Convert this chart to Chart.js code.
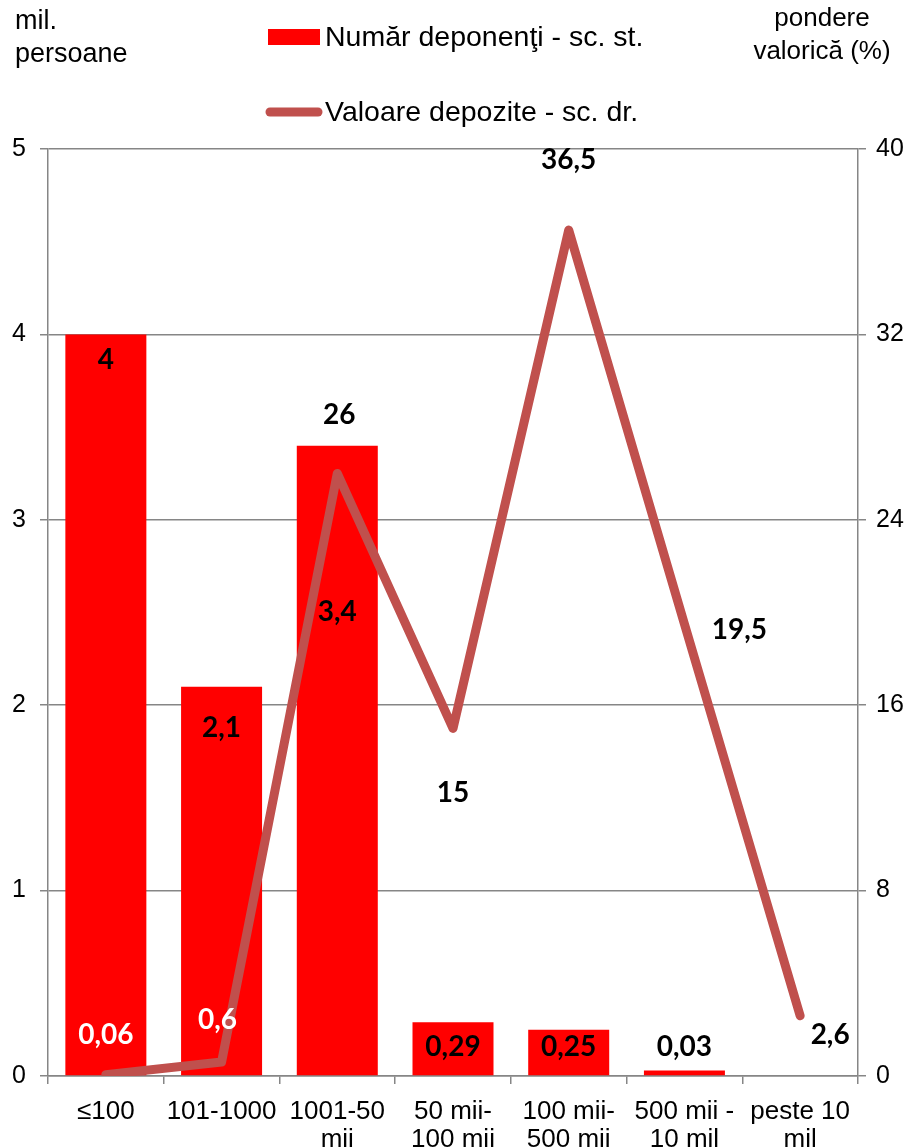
<!DOCTYPE html>
<html>
<head>
<meta charset="utf-8">
<script src="https://cdn.jsdelivr.net/npm/chart.js@4.4.1/dist/chart.umd.min.js"></script>
<style>
  html, body { margin: 0; padding: 0; background: #fff; }
  #wrap { width: 914px; height: 1148px; }
</style>
</head>
<body>
<div id="wrap"><canvas id="myChart" width="914" height="1148"></canvas></div>
<script>
// categorii (sume depozitate, lei)
var categories = [['≤100'], ['101-1000'], ['1001-50', 'mii'], ['50 mii-', '100 mii'],
  ['100 mii-', '500 mii'], ['500 mii -', '10 mil'], ['peste 10', 'mil']];
// numar deponenti, mil. persoane (scala stanga)
var deponenti = [4, 2.1, 3.4, 0.29, 0.25, 0.03, null];
// valoare depozite, pondere % (scala dreapta)
var depozite = [0.06, 0.6, 26, 15, 36.5, 19.5, 2.6];
var leftTicks = [0, 1, 2, 3, 4, 5];
var rightTicks = [0, 8, 16, 24, 32, 40];

var RED = '#FF0000', LINE = '#C0504D', AXIS = '#868686';
var TXT = '"Liberation Sans", Arial, sans-serif';

function fmt(v) { return String(v).replace('.', ','); }

// etichete de valoare, deplasate fata de bara / punct
var labelPlugin = {
  id: 'valLabels',
  afterDatasetsDraw: function(chart, args, opts) {
    var c = chart.ctx;
    c.save();
    c.font = 'bold 28px Lato, "Open Sans", sans-serif';
    c.textAlign = 'center';
    c.textBaseline = 'middle';
    chart.data.datasets.forEach(function(ds, di) {
      var meta = chart.getDatasetMeta(di);
      var offs = opts.offsets[di];
      meta.data.forEach(function(el, i) {
        var v = ds.data[i];
        if (v == null || !offs[i]) return;
        c.fillStyle = (opts.white[di] || [])[i] ? '#fff' : '#000';
        c.fillText(fmt(v), el.x + offs[i][0], el.y + offs[i][1]);
      });
    });
    c.restore();
  }
};

// legenda si titlurile axelor
var headerPlugin = {
  id: 'header',
  afterDraw: function(chart) {
    var c = chart.ctx;
    c.save();
    c.fillStyle = '#000';
    c.textBaseline = 'middle';
    c.font = '27px ' + TXT;
    c.textAlign = 'left';
    c.fillText('mil.', 15, 22);
    c.fillText('persoane', 15, 55);
    c.font = '26px ' + TXT;
    c.textAlign = 'center';
    c.fillText('pondere', 822, 19);
    c.fillText('valorică (%)', 822, 52);

    c.fillStyle = RED;
    c.fillRect(268, 29, 52, 16);
    c.strokeStyle = LINE;
    c.lineWidth = 9;
    c.lineCap = 'round';
    c.beginPath();
    c.moveTo(270, 112);
    c.lineTo(318, 112);
    c.stroke();

    c.fillStyle = '#000';
    c.textAlign = 'left';
    c.font = '28.5px ' + TXT;
    c.fillText(chart.data.datasets[1].label, 325, 38);
    c.fillText(chart.data.datasets[0].label, 325, 113);
    c.restore();
  }
};

var chart = new Chart(document.getElementById('myChart'), {
  data: {
    labels: categories,
    datasets: [{
      type: 'line',
      label: 'Valoare depozite - sc. dr.',
      data: depozite,
      yAxisID: 'y1',
      borderColor: LINE,
      backgroundColor: LINE,
      borderWidth: 9,
      borderCapStyle: 'round',
      borderJoinStyle: 'round',
      pointRadius: 0,
      tension: 0,
      order: 0
    }, {
      type: 'bar',
      label: 'Număr deponenţi - sc. st.',
      data: deponenti,
      yAxisID: 'y',
      backgroundColor: RED,
      barPercentage: 0.7,
      categoryPercentage: 1,
      order: 1
    }]
  },
  options: {
    responsive: false,
    animation: false,
    layout: { padding: { top: 149, left: 0, right: 0, bottom: 0 } },
    plugins: {
      legend: { display: false },
      tooltip: { enabled: false },
      valLabels: {
        offsets: [
          [[0, -40], [-4, -42], [2, -58], [0, 65], [0, -70], [55, 6], [30, 19]],
          [[0, 26], [0, 41], [0, 166], [0, 25], [0, 17], [0, -23], null]
        ],
        white: [[true, true], []]
      }
    },
    scales: {
      x: {
        offset: true,
        grid: { offset: true, drawOnChartArea: false, color: AXIS, tickLength: 8, lineWidth: 1.5 },
        border: { color: AXIS, width: 1.5 },
        ticks: { color: '#000', font: { family: TXT, size: 26, lineHeight: 1.08 }, padding: 14, maxRotation: 0, autoSkip: false },
        afterFit: function(s) { s.height = 72; }
      },
      y: {
        position: 'left',
        min: 0, max: 5,
        afterBuildTicks: function(s) { s.ticks = leftTicks.map(function(v) { return { value: v }; }); },
        grid: { color: AXIS, tickLength: 8, lineWidth: 1.5 },
        border: { color: AXIS, width: 1.5 },
        ticks: { color: '#000', font: { family: TXT, size: 25 }, padding: 14 },
        afterFit: function(s) { s.width = 48; }
      },
      y1: {
        position: 'right',
        min: 0, max: 40,
        afterBuildTicks: function(s) { s.ticks = rightTicks.map(function(v) { return { value: v }; }); },
        grid: { drawOnChartArea: false, color: AXIS, tickLength: 8, lineWidth: 1.5 },
        border: { color: AXIS, width: 1.5 },
        ticks: { color: '#000', font: { family: TXT, size: 25 }, padding: 10 },
        afterFit: function(s) { s.width = 56; }
      }
    }
  },
  plugins: [labelPlugin, headerPlugin]
});
</script>
</body>
</html>
